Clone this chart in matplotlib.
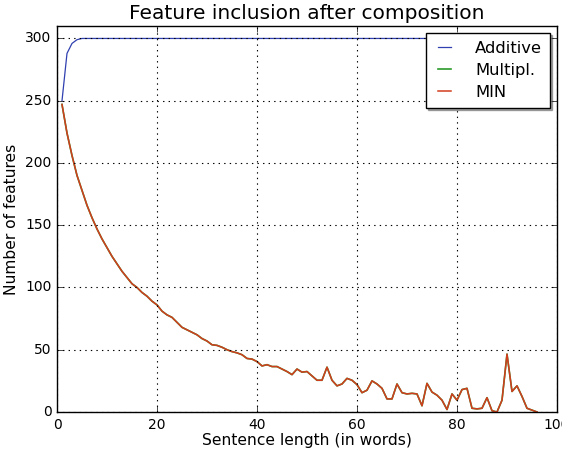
import matplotlib
matplotlib.use("Agg")
import matplotlib.pyplot as plt

lengths = list(range(1, 97))
additive = [250, 288, 296, 299] + [300] * 92
min_vals = [247, 224, 206, 190, 178, 166, 156, 147, 139, 132,
            125, 119, 113, 108, 103, 100, 96, 93, 89, 86,
            81, 78, 76, 72, 68, 66, 64, 62, 59, 57,
            54, 53.5, 52, 50, 48.5, 47.5, 46, 43, 42.5, 40.5,
            37, 38, 36.5, 36.5, 34.5, 32.5, 30, 34.5, 32, 32.5,
            29, 25.5, 25.5, 36, 25.5, 21, 22.5, 27, 25.5, 22,
            15.5, 17.5, 25, 22.5, 19, 10.5, 10.5, 22.5, 15.5, 14.5,
            15, 14.5, 5, 23, 16, 13.5, 9.5, 2, 14.5, 9.5,
            18, 19, 3, 2.5, 3, 11.5, 1, 0, 9.5, 46.5,
            16.5, 21, 12.5, 3, 1.5, 0]
multipl = list(min_vals)

plt.style.use('classic')
plt.rcParams['font.family'] = ['DejaVu Sans']

fig = plt.figure(figsize=(5.62, 4.5), dpi=100, facecolor='white')
ax = fig.add_axes([57/562, 1-412/450, 500/562, 386/450])
ax.plot(lengths, additive, color='#3040b0', lw=0.9, label='Additive')
ax.plot(lengths, multipl, color='#2a9a2a', lw=1.2, label='Multipl.')
ax.plot(lengths, min_vals, color='#d23c1e', lw=1.1, label='MIN')
ax.set_xlim(0, 100)
ax.set_ylim(0, 310)
ax.set_xticks([0, 20, 40, 60, 80, 100])
ax.set_yticks([0, 50, 100, 150, 200, 250, 300])
ax.grid(True, linestyle=':', color='k', lw=0.8)
ax.tick_params(labelsize=10)
ax.set_xlabel('Sentence length (in words)', fontsize=11.2, labelpad=1)
ax.set_ylabel('Number of features', fontsize=11.2)
ax.yaxis.set_label_coords(-0.075, 0.5)
ax.set_title('Feature inclusion after composition', fontsize=14.5, pad=5)
leg = ax.legend(loc='upper right', fontsize=11.8, borderaxespad=0.45,
                handlelength=1.4, handletextpad=1.15, labelspacing=0.44,
                borderpad=0.45, shadow={'ox': 1.5, 'oy': -1.5, 'color': '0.35'})
fig.savefig('out.png', dpi=100, facecolor='white')
